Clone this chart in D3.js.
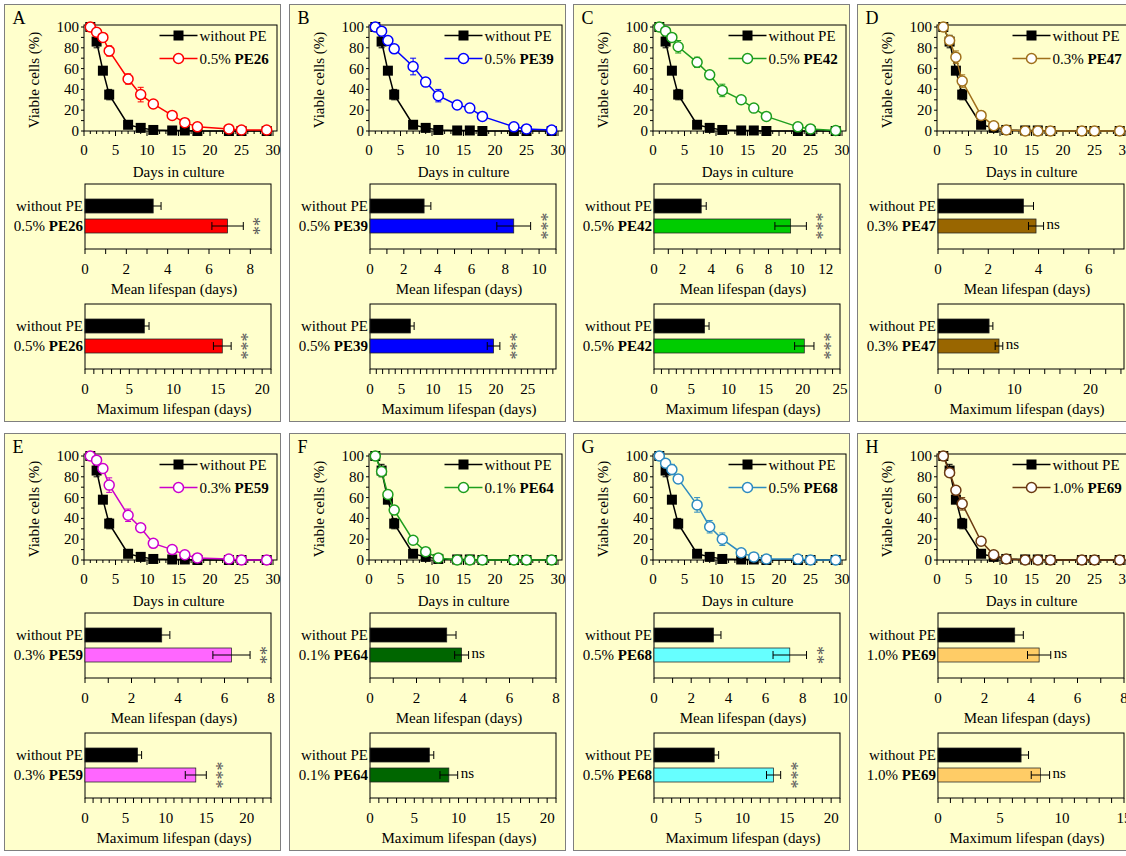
<!DOCTYPE html>
<html>
<head>
<meta charset="utf-8">
<script src="https://cdn.jsdelivr.net/npm/d3@7"></script>
<style>
  body { margin: 0; background: #ffffff; }
  svg { display: block; }
</style>
</head>
<body>
<svg id="fig" width="1126" height="856"></svg>
<script>
// Sampling days of the chronological lifespan assay
const days = [1, 2, 3, 4, 7, 9, 11, 14, 16, 18, 23, 25, 29];

// Untreated control (without PE): % viable cells and SEM
const controlViability = [100, 86, 58, 35, 6, 3, 1, 0.5, 0.5, 0, 0, 0, 0];
const controlError     = [0, 6, 3, 5, 2, 1, 1, 0, 0, 0, 0, 0, 0];

// Treated cultures: % viable cells and SEM
const pe26Viability = [100, 95, 90, 77, 50, 35, 26, 15, 8, 4, 2, 1, 1];
const pe26Error     = [0, 2, 4, 5, 5, 7, 2, 2, 2, 1, 1, 1, 1];
const pe39Viability = [100, 96, 87, 79, 62, 47, 34, 25, 22, 14, 4, 2, 1];
const pe39Error     = [0, 2, 2, 3, 8, 4, 6, 2, 2, 1, 1, 1, 0];
const pe42Viability = [100, 96, 90, 81, 66, 54, 39, 30, 22, 14, 4, 2, 0.5];
const pe42Error     = [0, 2, 3, 6, 5, 4, 6, 3, 2, 3, 1, 1, 0];
const pe47Viability = [100, 87, 71, 48, 15, 5, 1, 0, 0, 0, 0, 0, 0];
const pe47Error     = [0, 3, 6, 6, 4, 2, 1, 0, 0, 0, 0, 0, 0];
const pe59Viability = [100, 96, 88, 72, 43, 31, 16, 10, 5, 2, 1, 0, 0];
const pe59Error     = [0, 2, 4, 7, 6, 4, 2, 2, 1, 1, 0, 0, 0];
const pe64Viability = [100, 85, 63, 48, 19, 8, 2, 0, 0, 0, 0, 0, 0];
const pe64Error     = [0, 3, 4, 4, 3, 2, 1, 0, 0, 0, 0, 0, 0];
const pe68Viability = [100, 93, 87, 78, 53, 32, 20, 7, 3, 1, 1, 0, 0];
const pe68Error     = [0, 2, 5, 3, 7, 6, 6, 2, 1, 0, 0, 0, 0];
const pe69Viability = [100, 84, 67, 54, 18, 5, 1, 0, 0, 0, 0, 0, 0];
const pe69Error     = [0, 3, 3, 6, 3, 2, 1, 0, 0, 0, 0, 0, 0];

// Panel identities
const panelLetters = ["A", "B", "C", "D", "E", "F", "G", "H"];
const doses        = ["0.5%", "0.5%", "0.5%", "0.3%", "0.3%", "0.1%", "0.5%", "1.0%"];
const extracts     = ["PE26", "PE39", "PE42", "PE47", "PE59", "PE64", "PE68", "PE69"];
const controlLabel = "without PE";

// Mean lifespan (days) with SEM
const meanControl       = [3.3, 3.2, 3.3, 3.4, 3.3, 3.3, 3.2, 3.3];
const meanControlError  = [0.38, 0.4, 0.35, 0.4, 0.35, 0.4, 0.4, 0.37];
const meanTreated       = [6.9, 8.5, 9.55, 3.9, 6.3, 3.94, 7.3, 4.35];
const meanTreatedError  = [0.76, 1.0, 1.1, 0.3, 0.8, 0.3, 0.9, 0.5];
const meanAxisMax       = [9, 11, 13, 7.4, 8, 8, 10, 8];
const meanSignificance  = ["**", "***", "***", "ns", "**", "ns", "**", "ns"];

// Maximum lifespan (days) with SEM
const maxControl        = [6.7, 6.4, 6.8, 6.7, 6.5, 6.7, 6.8, 6.7];
const maxControlError   = [0.53, 0.6, 0.6, 0.5, 0.5, 0.5, 0.5, 0.6];
const maxTreated        = [15.5, 19.6, 20.2, 8.0, 13.7, 8.9, 13.5, 8.26];
const maxTreatedError   = [1.0, 1.0, 1.3, 0.5, 1.3, 1.0, 0.8, 0.74];
const maxAxisMax        = [21, 29.5, 25, 24.4, 23, 21, 21, 15];
const maxTickStep       = [5, 5, 5, 10, 5, 5, 5, 5];
const maxSignificance   = ["***", "***", "***", "ns", "***", "ns", "***", "ns"];

// Series colours
const lineColors = ["#FF0000", "#0000FF", "#1E9E1E", "#A0701C", "#CC00CC", "#1E9E1E", "#2E8BC0", "#6B3A12"];
const barColors  = ["#FF0000", "#0000FF", "#00CC00", "#996600", "#FF66FF", "#006600", "#66FFFF", "#FFCC66"];

const treatedViability = [pe26Viability, pe39Viability, pe42Viability, pe47Viability,
                          pe59Viability, pe64Viability, pe68Viability, pe69Viability];
const treatedError     = [pe26Error, pe39Error, pe42Error, pe47Error,
                          pe59Error, pe64Error, pe68Error, pe69Error];

const svg = d3.select("#fig");
const FONT = 15;
const SERIF = "Liberation Serif, Times New Roman, DejaVu Serif, Times, serif";

// Panel geometry
const panelX = [4, 289, 573, 857];
const panelY = [4, 433];
const panelW = 276, panelH = 417;

function txt(sel) {
  return sel.append("text").attr("font-family", SERIF).attr("font-size", FONT).attr("fill", "#000");
}

function addLabel(sel, dose, extract) {
  sel.append("tspan").text(dose + " ");
  sel.append("tspan").attr("font-weight", "bold").text(extract);
}

function drawLineChart(g, i) {
  const W = 193, H = 106;
  const lg = g.append("g").attr("transform", "translate(79.5,20.5)");
  const x = d3.scaleLinear().domain([0, 30]).range([0, 189]);
  const y = d3.scaleLinear().domain([0, 100]).range([H, 2]);

  lg.append("rect").attr("width", W).attr("height", H)
    .attr("fill", "none").attr("stroke", "#000").attr("stroke-width", 1);

  // y ticks
  lg.selectAll(".ymin").data(d3.range(0, 101, 10)).join("line")
    .attr("x1", -3).attr("x2", 0).attr("y1", d => y(d)).attr("y2", d => y(d))
    .attr("stroke", "#000");
  d3.range(0, 101, 20).forEach(d => {
    txt(lg).attr("x", -5).attr("y", y(d) + 5).attr("text-anchor", "end").text(d);
  });
  // x ticks
  lg.selectAll(".xmin").data(d3.range(0, 31, 1)).join("line")
    .attr("x1", d => x(d)).attr("x2", d => x(d)).attr("y1", H).attr("y2", d => H + (d % 5 === 0 ? 5 : 3))
    .attr("stroke", "#000");
  d3.range(0, 31, 5).forEach(d => {
    txt(lg).attr("x", x(d)).attr("y", H + 24).attr("text-anchor", "middle").text(d);
  });

  txt(lg).attr("x", W / 2 - 2).attr("y", H + 46).attr("text-anchor", "middle").text("Days in culture");
  txt(lg).attr("transform", `translate(-45,${H / 2 + 2}) rotate(-90)`)
    .attr("text-anchor", "middle").text("Viable cells (%)");

  const line = d3.line().x(d => x(d[0])).y(d => y(d[1]));
  const series = [
    { v: controlViability, e: controlError, color: "#000", square: true },
    { v: treatedViability[i], e: treatedError[i], color: lineColors[i], square: false }
  ];
  series.forEach(s => {
    const pts = days.map((d, k) => [d, s.v[k], s.e[k]]);
    lg.append("path").datum(pts).attr("d", line).attr("fill", "none")
      .attr("stroke", s.color).attr("stroke-width", 1.5);
    const eb = lg.append("g").attr("stroke", s.color).attr("stroke-width", 1);
    pts.filter(p => p[2] > 0).forEach(p => {
      const lo = y(Math.max(0, p[1] - p[2])), hi = y(p[1] + p[2]);
      eb.append("line").attr("x1", x(p[0])).attr("x2", x(p[0])).attr("y1", lo).attr("y2", hi);
      eb.append("line").attr("x1", x(p[0]) - 3).attr("x2", x(p[0]) + 3).attr("y1", hi).attr("y2", hi);
      eb.append("line").attr("x1", x(p[0]) - 3).attr("x2", x(p[0]) + 3).attr("y1", lo).attr("y2", lo);
    });
    if (s.square) {
      lg.selectAll(null).data(pts).join("rect")
        .attr("x", p => x(p[0]) - 5).attr("y", p => y(p[1]) - 5)
        .attr("width", 10).attr("height", 10).attr("fill", "#000");
    } else {
      lg.selectAll(null).data(pts).join("circle")
        .attr("cx", p => x(p[0])).attr("cy", p => y(p[1])).attr("r", 5)
        .attr("fill", "#fff").attr("stroke", s.color).attr("stroke-width", 1.5);
    }
  });

  // legend
  const leg = g.append("g").attr("transform", "translate(155,31)");
  leg.append("line").attr("x1", 0).attr("x2", 38).attr("y1", 0).attr("y2", 0)
    .attr("stroke", "#000").attr("stroke-width", 1.5);
  leg.append("rect").attr("x", 14).attr("y", -5).attr("width", 10).attr("height", 10).attr("fill", "#000");
  txt(leg).attr("x", 40).attr("y", 5).text(controlLabel);
  leg.append("line").attr("x1", 0).attr("x2", 38).attr("y1", 23).attr("y2", 23)
    .attr("stroke", lineColors[i]).attr("stroke-width", 1.5);
  leg.append("circle").attr("cx", 19).attr("cy", 23).attr("r", 5)
    .attr("fill", "#fff").attr("stroke", lineColors[i]).attr("stroke-width", 1.5);
  addLabel(txt(leg).attr("x", 40).attr("y", 28), doses[i], extracts[i]);
}

function drawBarChart(g, i, top, values, errors, axisMax, tickStep, minorStep, sig, title) {
  const W = 186, H = 65;
  const bg = g.append("g").attr("transform", `translate(80.5,${top + 0.5})`);
  const x = d3.scaleLinear().domain([0, axisMax]).range([0, W]);
  const cats = [controlLabel, extracts[i]];
  const yb = d3.scaleBand().domain(cats).range([12, 52]).paddingInner(0.3).paddingOuter(0.15);

  bg.append("rect").attr("width", W).attr("height", H)
    .attr("fill", "none").attr("stroke", "#000").attr("stroke-width", 1);

  bg.selectAll(".xt").data(d3.range(0, axisMax + 1e-9, minorStep)).join("line")
    .attr("x1", d => x(d)).attr("x2", d => x(d)).attr("y1", H).attr("y2", H + 5)
    .attr("stroke", "#000");
  d3.range(0, axisMax + 1e-9, tickStep).forEach(d => {
    txt(bg).attr("x", x(d)).attr("y", H + 25).attr("text-anchor", "middle").text(d);
  });
  txt(bg).attr("x", W / 2 - 4).attr("y", H + 45).attr("text-anchor", "middle").text(title);

  const fills = ["#000", barColors[i]];
  cats.forEach((c, k) => {
    const y0 = yb(c), bh = yb.bandwidth(), cy = y0 + bh / 2;
    bg.append("rect").attr("x", 0).attr("y", y0).attr("width", x(values[k])).attr("height", bh)
      .attr("fill", fills[k]).attr("stroke", "#222").attr("stroke-width", 0.75);
    const lo = x(values[k] - errors[k]), hi = x(values[k] + errors[k]);
    const eb = bg.append("g").attr("stroke", "#000").attr("stroke-width", 1);
    eb.append("line").attr("x1", lo).attr("x2", hi).attr("y1", cy).attr("y2", cy);
    eb.append("line").attr("x1", lo).attr("x2", lo).attr("y1", cy - 4).attr("y2", cy + 4);
    eb.append("line").attr("x1", hi).attr("x2", hi).attr("y1", cy - 4).attr("y2", cy + 4);
    const label = txt(bg).attr("x", -2).attr("y", cy + 5).attr("text-anchor", "end");
    if (k === 0) label.text(controlLabel); else addLabel(label, doses[i], extracts[i]);
    if (k === 1) {
      if (sig === "ns") {
        txt(bg).attr("x", hi + 3).attr("y", cy + 3).text("ns");
      } else {
        txt(bg)
          .attr("transform", `translate(${hi + 4},${cy}) rotate(90)`)
          .attr("text-anchor", "middle").attr("y", 0)
          .attr("font-size", 18).attr("fill", "#595959")
          .text(sig);
      }
    }
  });
}

for (let i = 0; i < 8; i++) {
  const col = i % 4, row = Math.floor(i / 4);
  const g = svg.append("g").attr("transform", `translate(${panelX[col] + 0.5},${panelY[row] + 0.5})`);
  g.append("rect").attr("width", panelW).attr("height", panelH)
    .attr("fill", "#FFFFCC").attr("stroke", "#7F7F7F").attr("stroke-width", 1);
  txt(g).attr("x", 8).attr("y", 19).attr("font-size", 18).text(panelLetters[i]);

  drawLineChart(g, i);
  drawBarChart(g, i, 179, [meanControl[i], meanTreated[i]], [meanControlError[i], meanTreatedError[i]],
    meanAxisMax[i], 2, 1, meanSignificance[i], "Mean lifespan (days)");
  drawBarChart(g, i, 299, [maxControl[i], maxTreated[i]], [maxControlError[i], maxTreatedError[i]],
    maxAxisMax[i], maxTickStep[i], maxTickStep[i] / 5, maxSignificance[i], "Maximum lifespan (days)");
}
</script>
</body>
</html>
